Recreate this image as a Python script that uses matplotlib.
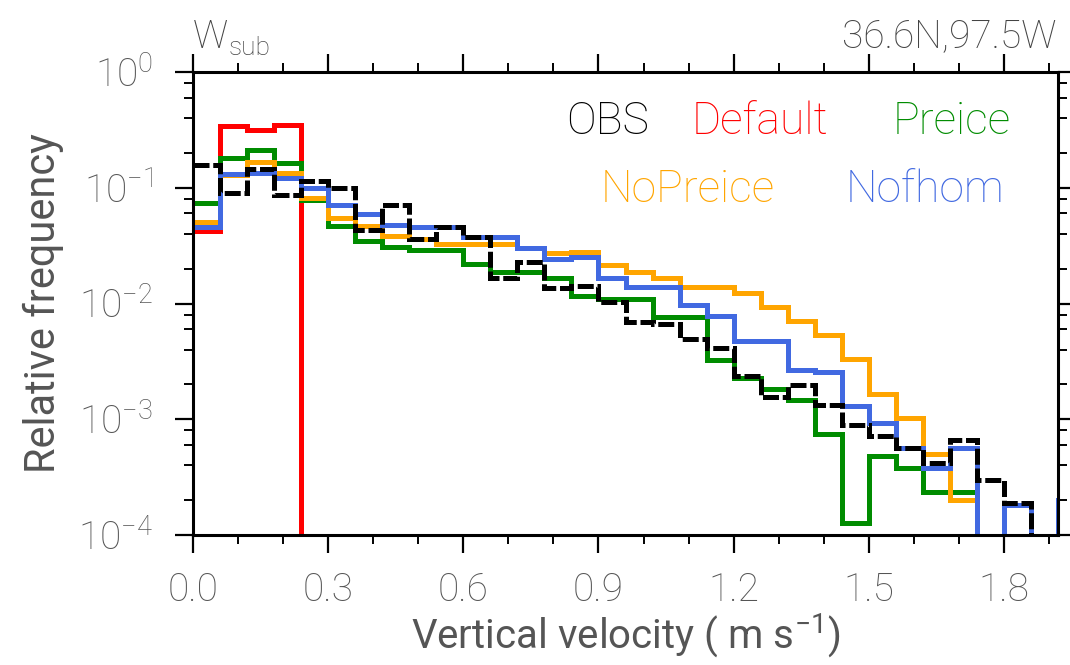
import numpy as np
import matplotlib
matplotlib.use("Agg")
import matplotlib.pyplot as plt
from matplotlib.ticker import MultipleLocator, LogLocator, LogFormatterMathtext, FormatStrFormatter

# ---------------- data ----------------
bin_width = 0.06
n_bins = 33
edges = np.arange(n_bins + 1) * bin_width

obs = [0.157, 0.0906, 0.144, 0.0866, 0.115, 0.100, 0.043, 0.071, 0.036, 0.046,
       0.0378, 0.0165, 0.023, 0.0137, 0.0142, 0.0104, 0.0069, 0.0066, 0.0049, 0.0041,
       0.00235, 0.00157, 0.00198, 0.00133, 0.0009, 0.00072, 0.00056, 0.00042, 0.00066, 0.0003,
       0.00019, 0.0, 0.0]
default = [0.0426, 0.342, 0.315, 0.348] + [0.0] * 29
preice = [0.074, 0.18, 0.212, 0.165, 0.078, 0.0467, 0.0347, 0.031, 0.029, 0.029,
          0.0218, 0.0188, 0.0188, 0.0165, 0.0115, 0.0109, 0.0109, 0.0077, 0.0077, 0.00325,
          0.00225, 0.00181, 0.00147, 0.00075, 0.000126, 0.00048, 0.000377, 0.000237, 0.000237, 0.0,
          0.0, 0.0, 0.0]
nopreice = [0.051, 0.13, 0.166, 0.133, 0.081, 0.0545, 0.047, 0.0383, 0.0358, 0.0325,
            0.0325, 0.0325, 0.030, 0.0271, 0.028, 0.0215, 0.0188, 0.0165, 0.014, 0.014,
            0.0124, 0.0094, 0.0071, 0.0053, 0.0033, 0.00165, 0.00102, 0.0005, 0.0002, 0.0,
            0.0, 0.0, 0.0]
nofhom = [0.046, 0.131, 0.135, 0.121, 0.099, 0.071, 0.059, 0.048, 0.0458, 0.0458,
          0.0373, 0.0373, 0.030, 0.0243, 0.0254, 0.0165, 0.014, 0.0138, 0.0097, 0.0078,
          0.0047, 0.0047, 0.00266, 0.00257, 0.0013, 0.00092, 0.00056, 0.000377, 0.00056, 0.0,
          0.00018, 0.0, 0.0002]

names = ["OBS", "Default", "Preice", "NoPreice", "Nofhom"]
colors = ["black", "#ff0000", "#008c00", "#ffa500", "#4169e1"]

xticks = [0.0, 0.3, 0.6, 0.9, 1.2, 1.5, 1.8]
ymin, ymax = 1e-4, 1.0
xmax = 1.92

# ---------------- style ----------------
plt.rcParams['font.family'] = ['Roboto', 'DejaVu Sans']
plt.rcParams['font.weight'] = 'light'
plt.rcParams['mathtext.default'] = 'regular'
gray = '#555555'

fig = plt.figure(figsize=(10.7, 6.65), dpi=100)
ax = fig.add_axes([193 / 1070, 1 - 535 / 665, 865 / 1070, 463 / 665])

ax.set_yscale('log')
ax.set_xlim(0, xmax)
ax.set_ylim(ymin, ymax)

floor = ymin * 0.975  # empty bins sit on the bottom frame
series = {"OBS": obs, "Default": default, "Preice": preice, "NoPreice": nopreice, "Nofhom": nofhom}
order = ["Default", "Preice", "NoPreice", "Nofhom", "OBS"]
for name in order:
    vals = np.clip(np.asarray(series[name], float), floor, None)
    c = colors[names.index(name)]
    st = ax.stairs(vals, edges, baseline=None, color=c, linewidth=3.6, zorder=2)
    if name == "OBS":
        st.set_linestyle((0, (3.2, 0.75)))

for s in ax.spines.values():
    s.set_linewidth(2.2)

ax.xaxis.set_minor_locator(MultipleLocator(0.1))
ax.set_xticks(xticks)
ax.xaxis.set_major_formatter(FormatStrFormatter('%.1f'))
ax.yaxis.set_major_locator(LogLocator(base=10, numticks=10))
ax.yaxis.set_minor_locator(LogLocator(base=10, subs=[2, 4, 6, 8], numticks=10))
ax.yaxis.set_major_formatter(LogFormatterMathtext())

ax.tick_params(which='both', direction='out', top=True, right=True,
               labeltop=False, labelright=False, labelcolor=gray, color='black')
ax.tick_params(which='major', length=13, width=1.6, labelsize=28)
ax.tick_params(axis='x', which='major', pad=13)
ax.tick_params(axis='y', which='major', pad=16)
ax.tick_params(which='minor', length=6.5, width=1.4)

ax.set_xlabel('Vertical velocity ( m s$^{-1}$)', fontsize=29, color=gray, labelpad=2)
ax.set_ylabel('Relative frequency', fontsize=30, color=gray, labelpad=10)

# legend-like labels (centre positions)
leg = {"OBS": (608, 134), "Default": (760, 134), "Preice": (952, 134),
       "NoPreice": (688, 202), "Nofhom": (925, 202)}
for name, (px, py) in leg.items():
    ax.text((px - 193) / 865, (535 - py) / 463, name, transform=ax.transAxes,
            ha='center', va='baseline', fontsize=32, color=colors[names.index(name)])

# top annotations
fig.text(193 / 1070, 1 - 48 / 665, 'W', ha='left', va='baseline', fontsize=28, color='#444444')
fig.text(229 / 1070, 1 - 55 / 665, 'sub', ha='left', va='baseline', fontsize=19, color='#444444')
fig.text(1057 / 1070, 1 - 47 / 665, '36.6N,97.5W', ha='right', va='baseline', fontsize=28, color='#444444')

fig.savefig('out.png', dpi=100)
